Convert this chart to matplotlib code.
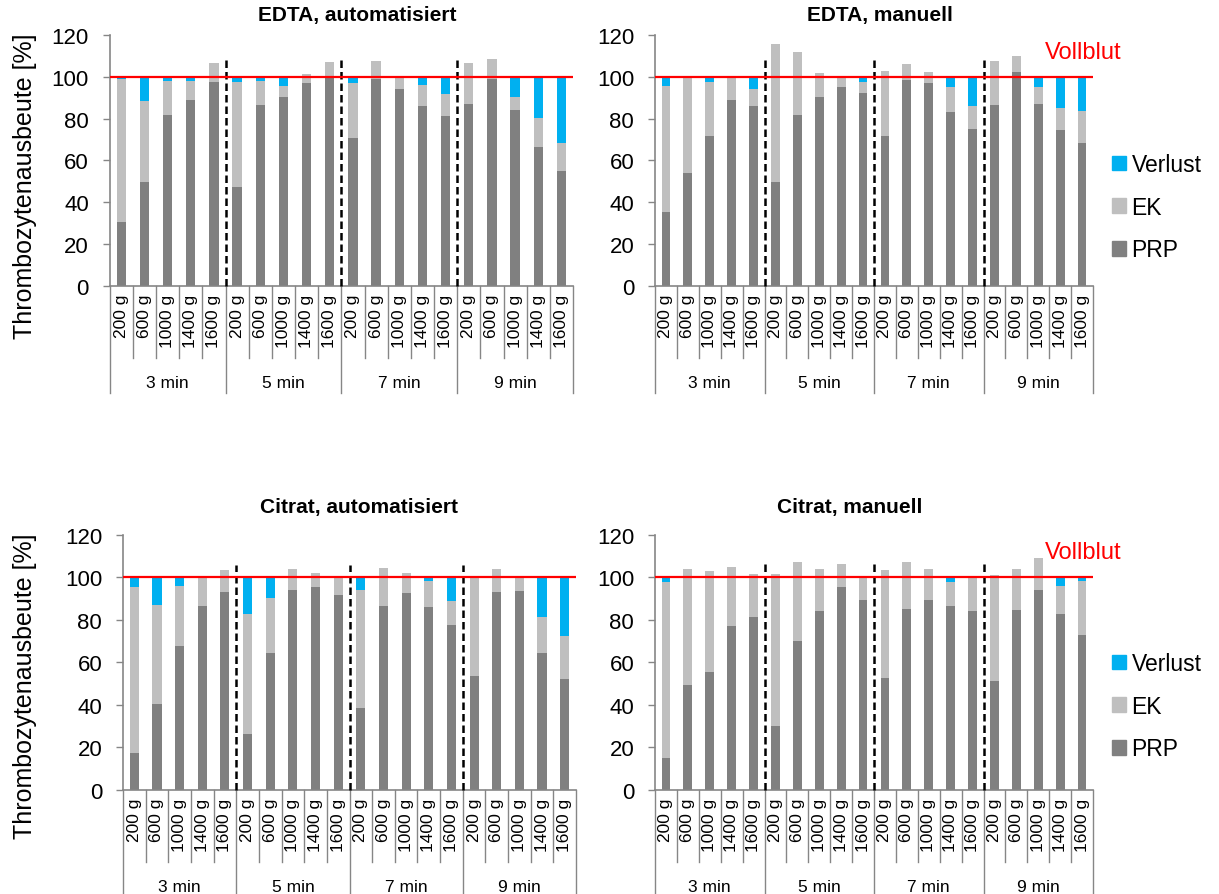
import matplotlib
matplotlib.use('Agg')
import matplotlib.pyplot as plt
from matplotlib.patches import Patch

plt.rcParams['font.family'] = ['Liberation Sans', 'DejaVu Sans']

# Kategorien
zeiten = ['3 min', '5 min', '7 min', '9 min']
kraefte = ['200 g', '600 g', '1000 g', '1400 g', '1600 g']

# EDTA, automatisiert
prp_edta_auto = [30.7, 49.8, 81.6, 88.8, 97.4, 47.4, 86.4, 90.1, 97.0, 100.0,
                 70.6, 98.9, 94.1, 85.9, 81.1, 87.2, 98.9, 84.0, 66.2, 54.7]
ek_edta_auto = [68.0, 38.5, 16.5, 9.0, 9.0, 49.9, 11.7, 5.4, 4.1, 6.9,
                26.4, 8.8, 5.9, 10.1, 10.7, 19.5, 9.7, 6.1, 14.1, 13.8]
verl_edta_auto = [1.3, 11.7, 1.9, 2.2, 0, 2.7, 1.9, 4.5, 0, 0,
                  3.0, 0, 0, 4.0, 8.2, 0, 0, 9.9, 19.7, 31.5]

# EDTA, manuell
prp_edta_man = [35.4, 54.1, 71.8, 89.1, 86.2, 49.8, 81.9, 90.4, 94.9, 92.0,
                71.5, 98.6, 96.8, 83.2, 75.2, 86.7, 102.2, 87.2, 74.4, 68.5]
ek_edta_man = [60.4, 45.9, 25.8, 10.9, 7.9, 65.9, 29.9, 11.5, 5.1, 5.3,
               31.2, 7.6, 5.3, 11.8, 11.0, 21.0, 7.9, 7.8, 10.6, 14.9]
verl_edta_man = [4.2, 0, 2.4, 0, 5.9, 0, 0, 0, 0, 2.7,
                 0, 0, 0, 5.0, 13.8, 0, 0, 5.0, 15.0, 16.6]

# Citrat, automatisiert
prp_cit_auto = [17.3, 40.3, 67.7, 86.5, 93.2, 26.2, 64.4, 94.0, 95.6, 91.8,
                38.6, 86.7, 92.8, 86.0, 77.6, 53.8, 93.2, 93.7, 64.2, 52.0]
ek_cit_auto = [78.3, 46.5, 28.2, 13.5, 10.3, 56.8, 26.0, 9.8, 6.4, 8.2,
               55.4, 17.7, 9.2, 12.4, 11.3, 46.2, 10.7, 6.3, 17.1, 20.4]
verl_cit_auto = [4.4, 13.2, 4.1, 0, 0, 17.0, 9.6, 0, 0, 0,
                 6.0, 0, 0, 1.6, 11.1, 0, 0, 0, 18.7, 27.6]

# Citrat, manuell
prp_cit_man = [14.9, 49.5, 55.4, 77.2, 81.5, 30.0, 70.2, 84.3, 95.3, 89.5,
               52.7, 85.2, 89.5, 86.5, 84.0, 51.3, 84.5, 94.2, 83.0, 73.0]
ek_cit_man = [82.9, 54.4, 47.7, 27.7, 20.1, 71.7, 37.3, 19.8, 11.1, 10.5,
              50.8, 22.0, 14.4, 11.5, 15.7, 49.8, 19.4, 14.9, 13.0, 25.4]
verl_cit_man = [2.2, 0, 0, 0, 0, 0, 0, 0, 0, 0,
                0, 0, 0, 2.0, 0.3, 0, 0, 0, 4.0, 1.6]

c_prp = '#808080'
c_ek = '#bfbfbf'
c_verl = '#00b0f0'
c_achse = '#868686'

W, H = 1219, 895
fig = plt.figure(figsize=(W / 100, H / 100), dpi=100)


def neue_achse(l, r, t, b):
    return fig.add_axes([l / W, 1 - b / H, (r - l) / W, (b - t) / H])


def panel(ax, prp, ek, verl, titel, titel_x, titel_y, strich_oben, legende_y=None):
    ax_h = ax.get_position().height * H
    n = len(prp)
    x = list(range(n))
    unten_verl = [p + e for p, e in zip(prp, ek)]
    ax.bar(x, prp, width=0.4, color=c_prp, zorder=2)
    ax.bar(x, ek, bottom=prp, width=0.4, color=c_ek, zorder=2)
    ax.bar(x, verl, bottom=unten_verl, width=0.4, color=c_verl, zorder=2)
    ax.set_xlim(-0.5, n - 0.5)
    ax.set_ylim(0, 120)
    ax.set_yticks(range(0, 121, 20))
    ax.tick_params(axis='y', labelsize=16, length=5, pad=10, color=c_achse, width=1)
    ax.set_xticks([])
    for s in ['top', 'right']:
        ax.spines[s].set_visible(False)
    for s in ['left', 'bottom']:
        ax.spines[s].set_color(c_achse)
        ax.spines[s].set_linewidth(1.2)

    ax.axhline(100, color='red', lw=1.6, zorder=4)
    for g in range(1, len(zeiten)):
        xg = g * len(kraefte) - 0.5
        ax.plot([xg, xg], [0, strich_oben], color='black', lw=1.8,
                linestyle=(0, (3, 1.6)), zorder=3, clip_on=False)

    tr = ax.get_xaxis_transform()
    for k in range(n + 1):
        xs = k - 0.5
        lang = (k % len(kraefte) == 0)
        tiefe = 107 if lang else 72
        ax.plot([xs, xs], [0, -tiefe / ax_h], color=c_achse, lw=1.0,
                transform=tr, clip_on=False)
    for i in range(n):
        ax.text(i, -8 / ax_h, kraefte[i % len(kraefte)], rotation=90,
                ha='center', va='top', fontsize=12.5, transform=tr)
    for g, z in enumerate(zeiten):
        xm = g * len(kraefte) + (len(kraefte) - 1) / 2
        ax.text(xm, -97 / ax_h, z, ha='center', va='center', fontsize=12.5,
                transform=tr)

    fig.text(titel_x / W, 1 - titel_y / H, titel, ha='center', va='center',
             fontsize=15, fontweight='bold')

    if legende_y is not None:
        ax.text(0.977, 112, 'Vollblut', color='red', fontsize=17,
                ha='center', va='center', transform=ax.get_yaxis_transform(),
                clip_on=False)
        handles = [Patch(color=c_verl, label='Verlust'),
                   Patch(color=c_ek, label='EK'),
                   Patch(color=c_prp, label='PRP')]
        ax.legend(handles=handles, loc='upper left', frameon=False,
                  fontsize=16.5, handlelength=0.6, handleheight=0.6,
                  handletextpad=0.25, labelspacing=0.86, borderpad=0,
                  borderaxespad=0,
                  bbox_to_anchor=(1112 / W, 1 - legende_y / H),
                  bbox_transform=fig.transFigure)


a1 = neue_achse(109.7, 573, 36, 286.7)
a2 = neue_achse(655, 1093, 36, 286.7)
a3 = neue_achse(123, 576, 536, 790.7)
a4 = neue_achse(655, 1093, 536, 790.7)

panel(a1, prp_edta_auto, ek_edta_auto, verl_edta_auto, 'EDTA, automatisiert', 357, 15, 109)
panel(a2, prp_edta_man, ek_edta_man, verl_edta_man, 'EDTA, manuell', 880, 15, 108.5, 154)
panel(a3, prp_cit_auto, ek_cit_auto, verl_cit_auto, 'Citrat, automatisiert', 359, 508, 106)
panel(a4, prp_cit_man, ek_cit_man, verl_cit_man, 'Citrat, manuell', 850, 508, 107, 653)

for y in [186, 686]:
    fig.text(25 / W, 1 - y / H, 'Thrombozytenausbeute [%]', rotation=90,
             ha='center', va='center', fontsize=18)

fig.savefig('out.png', dpi=100)
